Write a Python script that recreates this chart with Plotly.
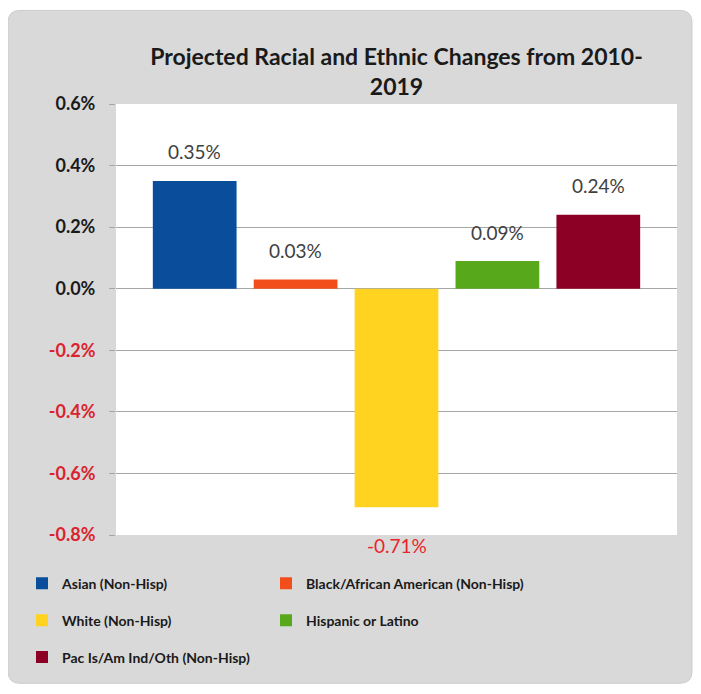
import plotly.graph_objects as go

categories = ["Asian (Non-Hisp)", "Black/African American (Non-Hisp)", "White (Non-Hisp)",
              "Hispanic or Latino", "Pac Is/Am Ind/Oth (Non-Hisp)"]
values = [0.35, 0.03, -0.71, 0.09, 0.24]
colors = ["#0A4E9B", "#F24E1C", "#FFD320", "#58A81C", "#8C0026"]
tick_vals = [0.6, 0.4, 0.2, 0.0, -0.2, -0.4, -0.6, -0.8]

# the page body adds an 8px margin, so work in screen pixels and subtract it
OFF = 8
W, H = 701 - 2 * OFF, 694 - 2 * OFF
PL, PR, PT, PB = 116, 677, 104, 537  # plot area in screen pixels
L, R, T, B = PL - OFF, W - (PR - OFF), PT - OFF, H - (PB - OFF)
pw, ph = W - L - R, H - T - B


def px_x(x):
    return (x - OFF - L) / pw


def px_y(y):
    return (H - B - (y - OFF)) / ph


# legend slot (screen px) for each series: two columns, three rows
legend_pos = [(22, 586), (266, 586), (22, 623), (266, 623), (22, 660)]

fig = go.Figure()
layout_legends = {}
for i, (cat, val, col) in enumerate(zip(categories, values, colors)):
    lid = "legend" if i == 0 else f"legend{i + 1}"
    fig.add_trace(go.Bar(
        x=[i], y=[val], name=cat, marker=dict(color=col, line=dict(width=0)),
        width=0.83, legend=lid, showlegend=True, hoverinfo="skip"
    ))
    lx, ly = legend_pos[i]
    layout_legends[lid] = dict(
        x=px_x(lx), y=px_y(ly), xanchor="left", yanchor="middle",
        bgcolor="rgba(0,0,0,0)", itemwidth=30,
        font=dict(family="Lato", size=14, color="#1A1A1A", weight="bold"))
    # data label
    neg = val < 0
    fig.add_annotation(
        x=i, y=val, text=f"{val:.2f}%", showarrow=False,
        yshift=-38 if neg else 29, yanchor="middle",
        font=dict(family="Lato", size=19, color="#E8252B" if neg else "#404040")
    )

# grey rounded background panel
x0, x1, y0, y1, r = 8, 692, 10, 686, 12
path = (f"M{px_x(x0 + r)},{px_y(y0)} L{px_x(x1 - r)},{px_y(y0)} "
        f"Q{px_x(x1)},{px_y(y0)} {px_x(x1)},{px_y(y0 + r)} "
        f"L{px_x(x1)},{px_y(y1 - r)} Q{px_x(x1)},{px_y(y1)} {px_x(x1 - r)},{px_y(y1)} "
        f"L{px_x(x0 + r)},{px_y(y1)} Q{px_x(x0)},{px_y(y1)} {px_x(x0)},{px_y(y1 - r)} "
        f"L{px_x(x0)},{px_y(y0 + r)} Q{px_x(x0)},{px_y(y0)} {px_x(x0 + r)},{px_y(y0)} Z")
fig.add_shape(type="path", path=path, xref="paper", yref="paper", layer="below",
              fillcolor="#D9D9D9", line=dict(color="#CDCDCD", width=1))
fig.add_shape(type="rect", xref="paper", yref="paper", x0=0, x1=1, y0=0, y1=1,
              layer="below", fillcolor="white", line=dict(width=0))

tick_text = []
for v in tick_vals:
    lab = f"{v:.1f}%"
    if v < 0:
        tick_text.append(f"<span style='color:#D9232E'><b>{lab}</b></span>")
    else:
        tick_text.append(f"<b>{lab}</b>")

fig.update_layout(
    width=W, height=H,
    margin=dict(l=L, r=R, t=T, b=B),
    paper_bgcolor="white", plot_bgcolor="rgba(0,0,0,0)",
    barmode="overlay", showlegend=True,
    title=dict(text="<b>Projected Racial and Ethnic Changes from 2010-<br>2019</b>",
               x=px_x((PL + PR) / 2), xanchor="center", y=1 - 57 / H, yanchor="top",
               xref="paper", font=dict(family="Lato", size=23, color="#1A1A1A")),
    xaxis=dict(range=[-0.78, 4.78], showticklabels=False, showgrid=False,
               zeroline=False, ticks="", fixedrange=True),
    yaxis=dict(range=[-0.8, 0.6], tickvals=tick_vals, ticktext=tick_text,
               showgrid=True, gridcolor="#A6A6A6", gridwidth=1,
               zeroline=True, zerolinecolor="#A6A6A6", zerolinewidth=1,
               ticks="outside", ticklen=6, tickcolor="#A6A6A6",
               ticklabelstandoff=10,
               tickfont=dict(family="Lato", size=18, color="#1A1A1A")),
    **layout_legends,
)

fig.write_html("out.html")
